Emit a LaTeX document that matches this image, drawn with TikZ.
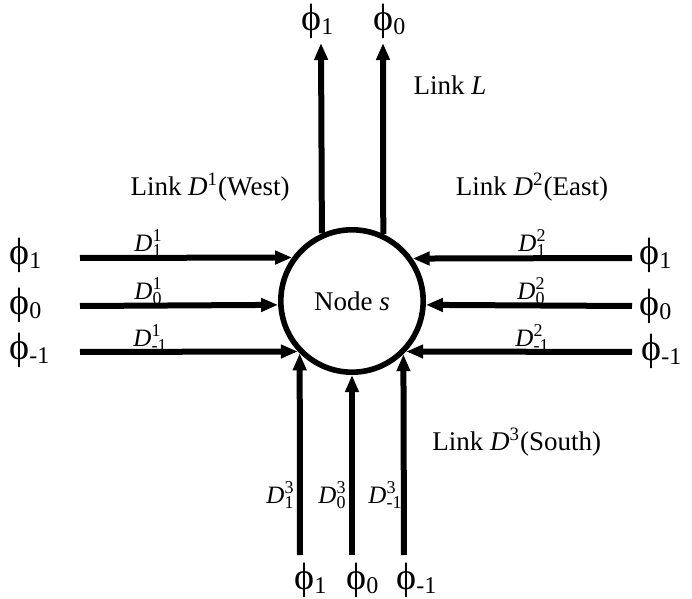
\documentclass[tikz,border=0pt]{standalone}
\usepackage{fontspec}
\setmainfont{Liberation Serif}
\usetikzlibrary{arrows.meta}
\newcommand\ph[1]{{\fontsize{19}{19}\selectfont ϕ}\raisebox{-2pt}{\fontsize{12}{12}\selectfont #1}}
\newcommand\Dlab[2]{\textit{D}\rlap{\raisebox{5pt}{\fontsize{9}{9}\selectfont #1}}\raisebox{-2.5pt}{\fontsize{9}{9}\selectfont #2}}
\begin{document}
\begin{tikzpicture}[x=0.5pt,y=-0.5pt,
  flow/.style={line width=3pt,-{Triangle[length=8.5pt,width=6.5pt]}},
  phil/.style={inner sep=0pt,anchor=west},
  dlab/.style={inner sep=0pt,font=\fontsize{12.5}{14}\selectfont},
  linklab/.style={inner sep=0pt,font=\fontsize{13.5}{16}\selectfont}]
\useasboundingbox (0,0) rectangle (692,599);
\node[circle,draw,line width=2.8pt,minimum size=71.2pt,inner sep=0pt,
      font=\fontsize{13.5}{16}\selectfont] (s) at (352,301) {Node \textit{s}};
% top outgoing
\coordinate (t1) at (321,43);
\coordinate (t0) at (383,43);
\draw[flow] (s.114.8) -- (t1);
\draw[flow] (s.65.2) -- (t0);
\node[phil] (pt1) at (301,21) {\ph{1}};
\node[phil] (pt0) at (373,21) {\ph{0}};
% west incoming
\coordinate (w1) at (80,258);
\coordinate (w0) at (80,306);
\coordinate (wm) at (80,352);
\draw[flow] (w1) -- (s.144.5);
\draw[flow] (w0) -- (s.183.9);
\draw[flow] (wm) -- (s.223.6);
\node[phil] (pw1) at (9,255) {\ph{1}};
\node[phil] (pw0) at (9,305) {\ph{0}};
\node[phil] (pwm) at (9,350) {\ph{-1}};
\node[dlab] (dw1) at (148,243) {\Dlab{1}{1}};
\node[dlab] (dw0) at (148,291) {\Dlab{1}{0}};
\node[dlab] (dwm) at (150,338) {\Dlab{1}{-1}};
% east incoming
\coordinate (e1) at (632,258);
\coordinate (e0) at (632,306);
\coordinate (em) at (632,352);
\draw[flow] (e1) -- (s.35.5);
\draw[flow] (e0) -- (s.-3.9);
\draw[flow] (em) -- (s.-43.6);
\node[phil] (pe1) at (639,255) {\ph{1}};
\node[phil] (pe0) at (639,306) {\ph{0}};
\node[phil] (pem) at (641,351) {\ph{-1}};
\node[dlab] (de1) at (532,243) {\Dlab{2}{1}};
\node[dlab] (de0) at (531,291) {\Dlab{2}{0}};
\node[dlab] (dem) at (532,338) {\Dlab{2}{-1}};
% south incoming
\coordinate (b1) at (300,555);
\coordinate (b0) at (352,555);
\coordinate (bm) at (404,555);
\draw[flow] (b1) -- (s.225.3);
\draw[flow] (b0) -- (s.270);
\draw[flow] (bm) -- (s.314.7);
\node[phil] (pb1) at (294,580) {\ph{1}};
\node[phil] (pb0) at (346,580) {\ph{0}};
\node[phil] (pbm) at (396,580) {\ph{-1}};
\node[dlab] (db1) at (280,495) {\Dlab{3}{1}};
\node[dlab] (db0) at (332,495) {\Dlab{3}{0}};
\node[dlab] (dbm) at (385,495) {\Dlab{3}{-1}};
% link labels
\node[linklab] (lL) at (450,85) {Link \textit{L}};
\node[linklab] (lW) at (210,187) {Link \textit{D}\textsuperscript{1}(West)};
\node[linklab] (lE) at (532,187) {Link \textit{D}\textsuperscript{2}(East)};
\node[linklab,anchor=west] (lS) at (432,442) {Link \textit{D}\textsuperscript{3}(South)};
\end{tikzpicture}
\end{document}
